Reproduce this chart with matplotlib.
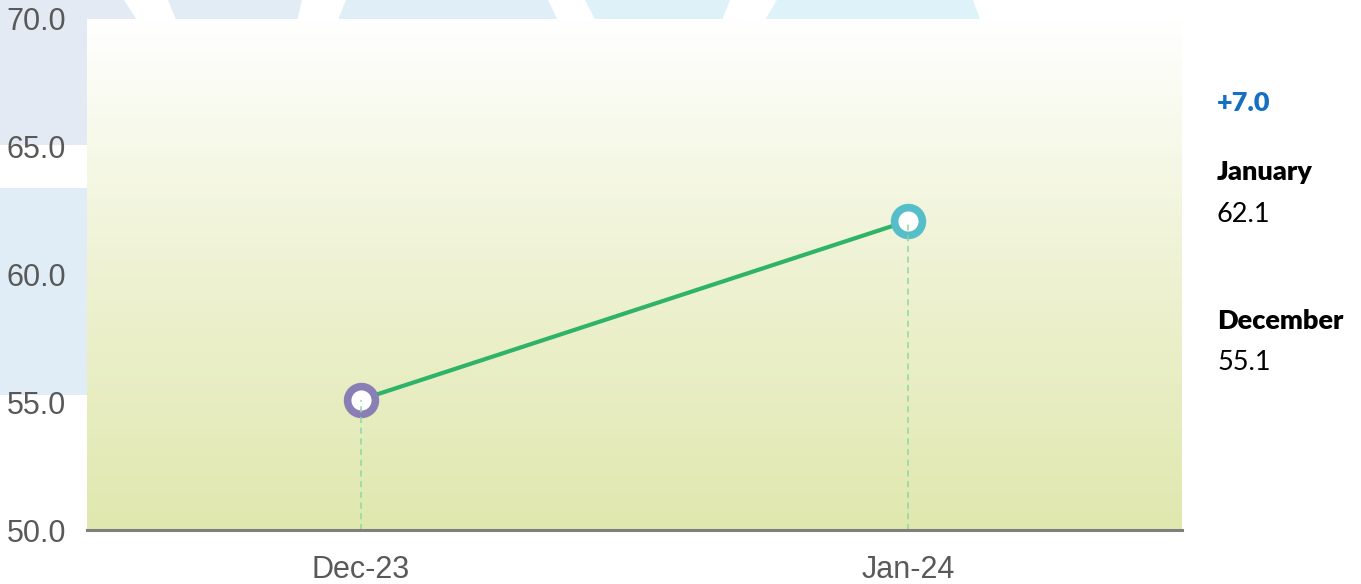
import numpy as np
import matplotlib
matplotlib.use("Agg")
import matplotlib.pyplot as plt
from matplotlib.patches import Polygon
from matplotlib.colors import LinearSegmentedColormap

# ---- data ----
categories = ["Dec-23", "Jan-24"]
values = [55.1, 62.1]
marker_colors = ["#8A7FB4", "#55BEC8"]
y_ticks = [50, 55, 60, 65, 70]
change_label = "+7.0"
side_labels = ["January", "December"]
side_values = ["62.1", "55.1"]

W, H = 1361, 584
fig = plt.figure(figsize=(W / 100, H / 100), dpi=100)
fig.patch.set_facecolor("white")

def px_poly(pts, color):
    p = Polygon([(x / W, 1 - y / H) for x, y in pts], closed=True,
                transform=fig.transFigure, facecolor=color, edgecolor="none", zorder=0)
    fig.patches.append(p)

# decorative background shapes (pixel coordinates)
px_poly([(0, 0), (124, 0), (140, 25), (140, 145), (0, 145)], "#E3EAF3")
px_poly([(0, 188), (140, 188), (140, 395), (0, 395)], "#E0EDF6")
px_poly([(168, 0), (302, 0), (296, 25), (178, 25)], "#E2ECF5")
px_poly([(346, 0), (548, 0), (560, 25), (336, 25)], "#E0EEF7")
px_poly([(585, 0), (730, 0), (720, 25), (598, 25)], "#DEF0F8")
px_poly([(777, 0), (973, 0), (982, 25), (762, 25)], "#DDF2F9")

left, right, top, bottom = 87, 1182, 19, 530
ax = fig.add_axes([left / W, 1 - bottom / H, (right - left) / W, (bottom - top) / H])
ax.set_zorder(1)

x = np.arange(len(categories))
ax.set_xlim(-0.5, 1.5)
ax.set_ylim(50, 70)

# gradient background
cmap = LinearSegmentedColormap.from_list("g", ["#E0E8AF", "#EEF2D2", "#FFFFFF"])
grad = np.linspace(0, 1, 256).reshape(-1, 1)
ax.imshow(grad, aspect="auto", cmap=cmap, origin="lower",
          extent=[-0.5, 1.5, 50, 70], zorder=0)

ax.plot(x, values, color="#2EB369", lw=3, zorder=3, solid_capstyle="butt")
for xi, v, c in zip(x, values, marker_colors):
    ax.plot([xi], [v], marker="o", ms=20, mew=5.5, mfc="white", mec=c, zorder=4, ls="none")
    ax.plot([xi, xi], [50, v], color="#8ED8A2", lw=1.1, ls=(0, (4, 3)), zorder=5)

for s in ["left", "right", "top"]:
    ax.spines[s].set_visible(False)
ax.spines["bottom"].set_color("#7F7F7F")
ax.spines["bottom"].set_linewidth(2.2)
ax.spines["bottom"].set_zorder(6)

ax.set_xticks(x)
ax.set_xticklabels(categories)
ax.set_yticks(y_ticks)
ax.set_yticklabels([f"{t:.1f}" for t in y_ticks])
ax.tick_params(axis="both", length=0, labelcolor="#595959", labelsize=22)
ax.tick_params(axis="y", pad=15)
ax.tick_params(axis="x", pad=18)
for lab in ax.get_xticklabels() + ax.get_yticklabels():
    lab.set_family(["Liberation Sans", "DejaVu Sans"])

fx = 1217 / W
def ftext(y, s, **kw):
    fig.text(fx, 1 - y / H, s, va="center", ha="left", family=["Lato", "DejaVu Sans"], **kw)

fs = 19.5
ftext(103, change_label, color="#1570C4", fontsize=fs, fontweight="heavy")
ftext(172, side_labels[0], color="black", fontsize=fs, fontweight="heavy")
ftext(215, side_values[0], color="black", fontsize=fs)
ftext(321, side_labels[1], color="black", fontsize=fs, fontweight="heavy")
ftext(363, side_values[1], color="black", fontsize=fs)

fig.savefig("out.png", dpi=100)
